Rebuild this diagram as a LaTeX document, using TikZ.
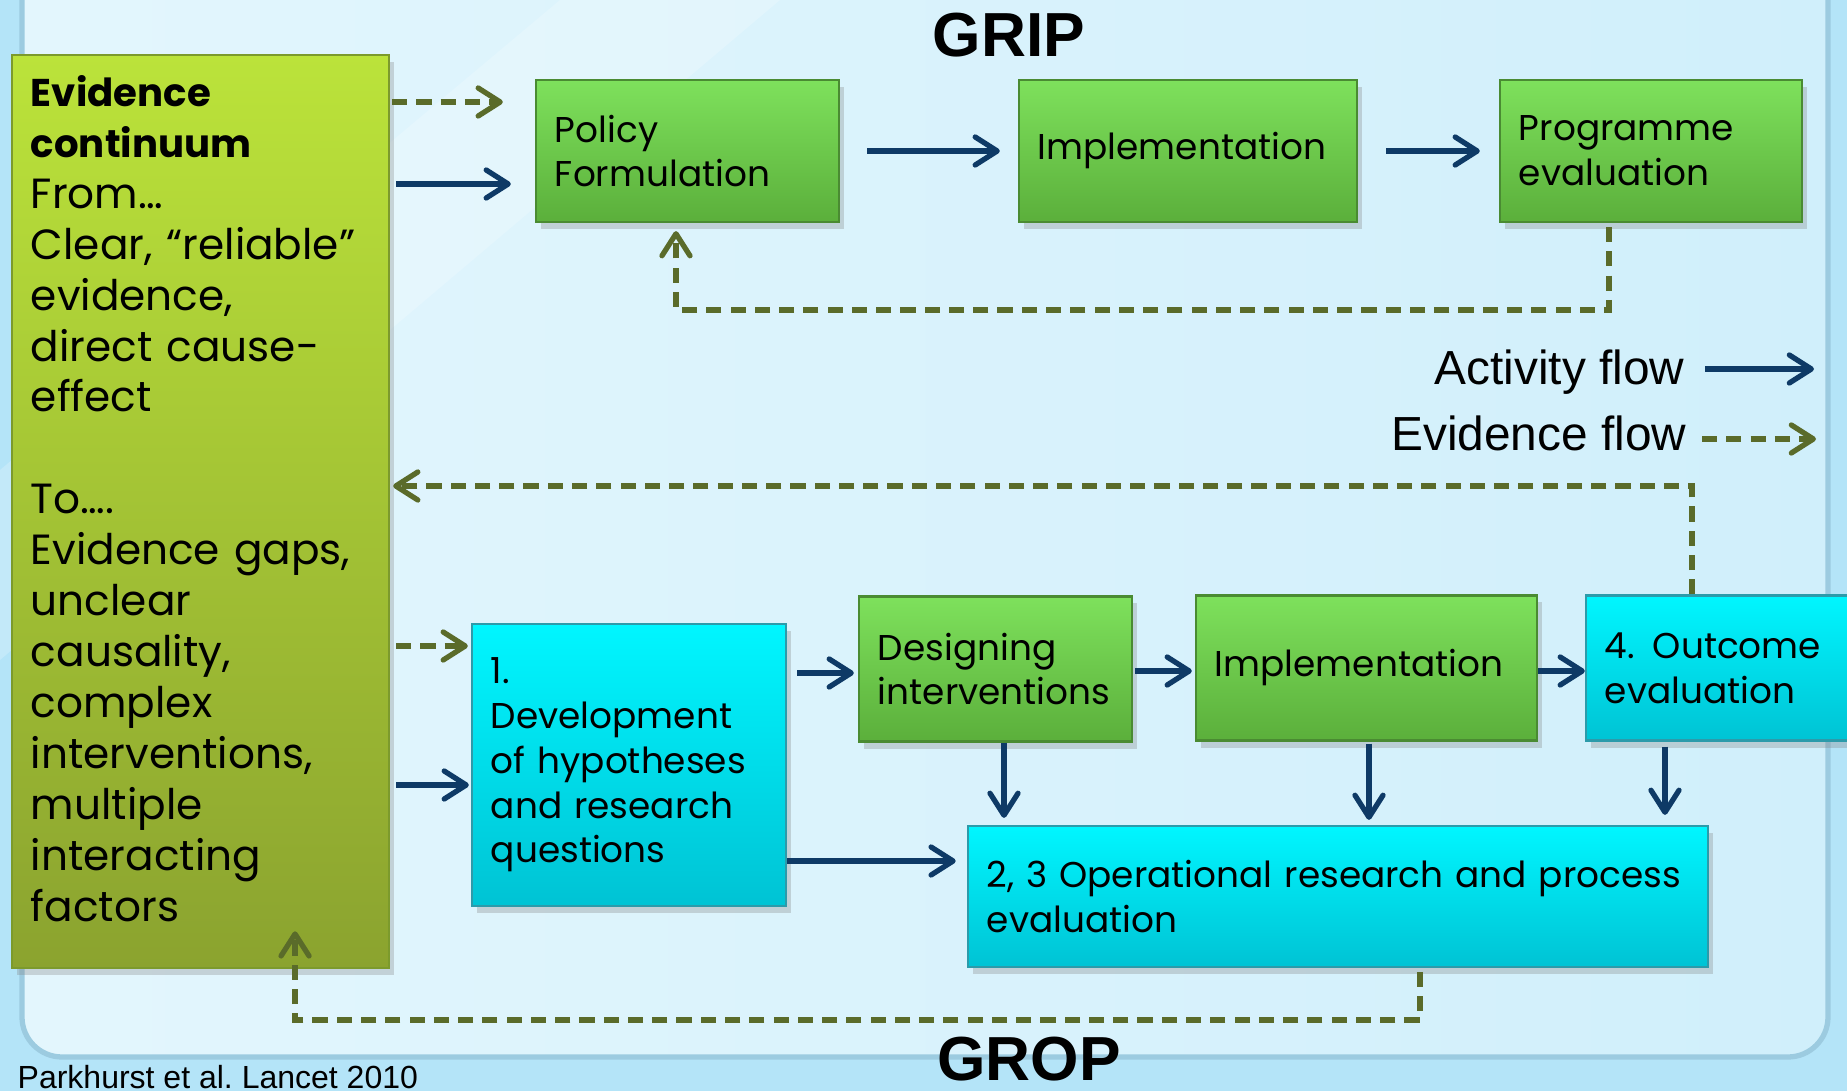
\documentclass[tikz,border=0pt]{standalone}
\usepackage{fontspec}
\setmainfont{Poppins}
\newfontfamily\headfont{Liberation Sans}
\usetikzlibrary{arrows.meta,shadows}

\definecolor{bgout}{HTML}{B4E4F8}
\definecolor{bginleft}{HTML}{E3F6FD}
\definecolor{bginright}{HTML}{D0EFFB}
\definecolor{frameline}{HTML}{9CCBE0}
\definecolor{evtop}{HTML}{BBE33A}
\definecolor{evbot}{HTML}{8BA32F}
\definecolor{evline}{HTML}{7C9A2C}
\definecolor{grntop}{HTML}{7EE15C}
\definecolor{grnbot}{HTML}{5BAF3B}
\definecolor{grnline}{HTML}{4A8B32}
\definecolor{cyntop}{HTML}{00F6FF}
\definecolor{cynbot}{HTML}{00C3D4}
\definecolor{cynline}{HTML}{2C9BAA}
\definecolor{actblue}{HTML}{0E3A66}
\definecolor{evdolive}{HTML}{5A6B2A}

\begin{document}
\begin{tikzpicture}[x=0.01cm,y=-0.01cm]
\tikzset{
  stage/.style={line width=0.6pt,inner xsep=0.19cm,inner ysep=2pt,align=left,
    font=\fontsize{10.2}{12.75}\selectfont,
    drop shadow={shadow xshift=1.5pt,shadow yshift=-2pt,opacity=0.3}},
  greenbox/.style={stage,draw=grnline,top color=grntop,bottom color=grnbot},
  cyanbox/.style={stage,draw=cynline,top color=cyntop,bottom color=cynbot},
  activity/.style={draw=actblue,line width=1.5pt,-{Straight Barb[round,length=2.2mm,width=2.8mm]}},
  evidence/.style={draw=evdolive,line width=1.5pt,dash pattern=on 4.3pt off 2.6pt,
    -{Straight Barb[round,length=2.2mm,width=2.8mm]}},
  heading/.style={inner sep=0pt,font=\headfont\bfseries\fontsize{17.7}{20}\selectfont},
  legend/.style={inner sep=0pt,font=\headfont\fontsize{13.6}{16}\selectfont}
}
\useasboundingbox (0,0) rectangle (1847,1091);
\clip (0,0) rectangle (1847,1091);
% background
\fill[bgout] (0,0) rectangle (1847,1091);
\draw[line width=1.5pt,draw=frameline,left color=bginleft,right color=bginright,rounded corners=0.4cm] (22,-60) rectangle (1828,1057);
\fill[white,opacity=0.2] (560,0) -- (780,0) -- (0,660) -- (0,470) -- cycle;

% evidence continuum
\node[stage,draw=evline,top color=evtop,bottom color=evbot,text width=3.39cm,minimum height=9.13cm,
  font=\fontsize{12}{14.5}\selectfont] (ev) at (200.5,511.5)
  {{\bfseries\fontsize{11}{14.5}\selectfont Evidence}\\ {\bfseries\fontsize{11}{14.5}\selectfont continuum}\\
   From…\\ Clear, “reliable”\\ evidence,\\ direct cause-\\ effect\\[14.5pt]
   To….\\ Evidence gaps,\\ unclear\\ causality,\\ complex\\ interventions,\\ multiple\\ interacting\\
   factors\rule[-0.26cm]{0pt}{0pt}};

% GRIP row
\node[heading,anchor=base] (grip) at (1009,57) {GRIP};
\node[greenbox,text width=2.65cm,minimum height=1.42cm] (pol) at (687.5,151) {Policy\\ Formulation};
\node[greenbox,text width=3.0cm,minimum height=1.42cm] (impA) at (1188,151) {Implementation};
\node[greenbox,text width=2.64cm,minimum height=1.42cm] (prog) at (1651,151) {Programme\\ evaluation};

% GROP row
\node[cyanbox,text width=2.76cm,minimum height=2.82cm] (dev) at (629,765)
  {1.\\ Development\\ of hypotheses\\ and research\\ questions};
\node[greenbox,text width=2.35cm,minimum height=1.45cm] (des) at (995.5,669) {Designing\\ interventions};
\node[greenbox,text width=3.03cm,minimum height=1.45cm] (impB) at (1366.5,668) {Implementation};
\node[cyanbox,text width=2.46cm,minimum height=1.45cm] (out) at (1728,668) {4. Outcome\\ evaluation};
\node[cyanbox,text width=7.02cm,minimum height=1.41cm] (ops) at (1338,896.5)
  {2, 3 Operational research and process\\ evaluation};
\node[heading,anchor=base] (grop) at (1029,1080) {GROP};
\node[inner sep=0pt,font=\headfont\fontsize{9.1}{11}\selectfont,anchor=base west] (cite) at (17,1088)
  {Parkhurst et al.\ Lancet 2010};

% legend
\node[legend,anchor=base east] (act) at (1685,385) {Activity flow};
\node[legend,anchor=base east] (evf) at (1687,451) {Evidence flow};
\coordinate (actbeg) at (1705,369);
\coordinate (actend) at (1814,369);
\coordinate (evfbeg) at (1702,439);
\coordinate (evfend) at (1816,439);
\draw[activity] (actbeg) -- (actend);
\draw[evidence] (evfbeg) -- (evfend);

% top flows
\draw[evidence,shorten <=0.02cm,shorten >=0.32cm] (ev.east |- 0,102) -- (pol.west |- 0,102);
\draw[activity,shorten <=0.06cm,shorten >=0.24cm] (ev.east |- 0,184) -- (pol.west |- 0,184);
\draw[activity,shorten <=0.27cm,shorten >=0.18cm] (pol) -- (impA);
\draw[activity,shorten <=0.28cm,shorten >=0.19cm] (impA) -- (prog);
\draw[evidence,shorten <=0.04cm,shorten >=0.08cm] ([xshift=-0.42cm]prog.south) -- ++(0,87) -| ([xshift=-0.115cm]pol.south);

% evidence back to the continuum
\draw[evidence,shorten >=0.03cm] ([xshift=-0.36cm]out.north) |- (ev.east |- 0,486);

% bottom flows
\draw[evidence,shorten <=0.06cm,shorten >=0.03cm] (ev.east |- 0,646) -- (dev.west |- 0,646);
\draw[activity,shorten <=0.06cm,shorten >=0.02cm] (ev.east |- 0,785) -- (dev.west |- 0,785);
\draw[activity,shorten <=0.1cm,shorten >=0.04cm] (dev.east |- 0,673) -- (des.west |- 0,673);
\draw[activity,shorten <=0.02cm,shorten >=0.03cm] (des.east |- 0,671) -- (impB.west |- 0,671);
\draw[activity] (impB.east |- 0,671) -- (out.west |- 0,671);
\draw[activity,shorten >=0.11cm] (dev.east |- 0,861) -- (ops.west |- 0,861);
\draw[activity,shorten >=0.07cm] (des.south -| 1004,0) -- (ops.north -| 1004,0);
\draw[activity,shorten <=0.02cm,shorten >=0.05cm] (impB.south -| 1369,0) -- (ops.north -| 1369,0);
\draw[activity,shorten <=0.05cm,shorten >=0.1cm] (out.south -| 1665,0) -- (ops.north -| 1665,0);
\draw[evidence,shorten <=0.04cm] ([xshift=0.82cm]ops.south) -- ++(0,52) -| ([xshift=0.945cm,yshift=0.38cm]ev.south);
\end{tikzpicture}
\end{document}
